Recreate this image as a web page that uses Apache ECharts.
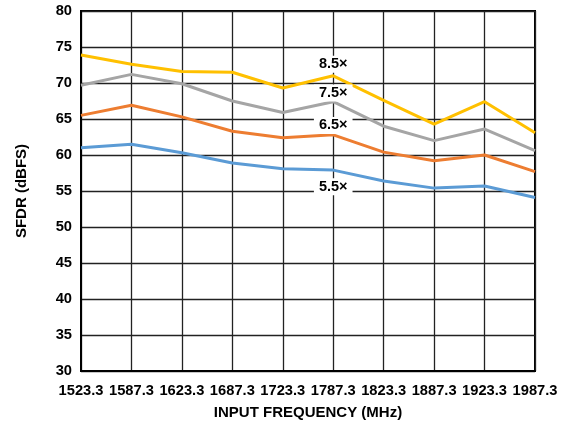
<!DOCTYPE html>
<html>
<head>
<meta charset="utf-8">
<script src="https://cdn.jsdelivr.net/npm/echarts@6/dist/echarts.min.js"></script>
<style>
  html, body { margin: 0; padding: 0; background: #fff; }
  #chart { width: 566px; height: 425px; }
</style>
</head>
<body>
<div id="chart"></div>
<script>
// Input frequencies (MHz)
const frequencies = ['1523.3', '1587.3', '1623.3', '1687.3', '1723.3', '1787.3', '1823.3', '1887.3', '1923.3', '1987.3'];

// SFDR (dBFS) per interpolation setting
const sfdr85 = [73.9, 72.6, 71.6, 71.5, 69.3, 71.0, 67.6, 64.3, 67.4, 63.1];
const sfdr75 = [69.7, 71.2, 69.9, 67.5, 65.9, 67.4, 64.0, 62.0, 63.6, 60.6];
const sfdr65 = [65.5, 66.9, 65.3, 63.3, 62.4, 62.8, 60.4, 59.2, 60.0, 57.7];
const sfdr55 = [61.0, 61.5, 60.3, 58.9, 58.1, 57.9, 56.4, 55.4, 55.7, 54.1];

// In-plot series tags: [text, category, level]
const tags85 = ['8.5×', '1787.3', 72.6];
const tags75 = ['7.5×', '1787.3', 68.6];
const tags65 = ['6.5×', '1787.3', 64.1];
const tags55 = ['5.5×', '1787.3', 55.6];

const font = 'Liberation Sans, Arial, sans-serif';

function tag(t) {
  return {
    symbol: 'circle',
    symbolSize: 0,
    silent: true,
    animation: false,
    data: [{
      coord: [t[1], t[2]],
      label: {
        show: true,
        position: 'inside',
        formatter: t[0],
        color: '#000',
        fontFamily: font,
        fontWeight: 'bold',
        fontSize: 14.5,
        backgroundColor: '#fff',
        padding: [1, 5, 1, 5]
      }
    }]
  };
}

function line(name, data, color, t) {
  return {
    name: name,
    type: 'line',
    data: data,
    symbol: 'none',
    lineStyle: { color: color, width: 3 },
    itemStyle: { color: color },
    animation: false,
    markPoint: tag(t)
  };
}

const chart = echarts.init(document.getElementById('chart'), null, { renderer: 'canvas' });
chart.setOption({
  backgroundColor: '#fff',
  grid: {
    left: 81, top: 11, right: 31, bottom: 54,
    containLabel: false,
    outerBoundsMode: 'none',
    show: true, borderColor: '#000', borderWidth: 2, backgroundColor: 'transparent'
  },
  xAxis: {
    type: 'category',
    data: frequencies,
    boundaryGap: false,
    name: 'INPUT FREQUENCY (MHz)',
    nameLocation: 'middle',
    nameGap: 34,
    nameTextStyle: { fontFamily: font, fontWeight: 'bold', fontSize: 15, color: '#000' },
    axisLine: { show: true, lineStyle: { color: '#000', width: 2 } },
    axisTick: { show: false },
    axisLabel: { fontFamily: font, fontWeight: 'bold', fontSize: 14.7, color: '#000', margin: 12, interval: 0 },
    splitLine: { show: true, lineStyle: { color: '#222', width: 1.3 } }
  },
  yAxis: {
    type: 'value',
    min: 30, max: 80, interval: 5,
    name: 'SFDR (dBFS)',
    nameLocation: 'middle',
    nameGap: 52,
    nameTextStyle: { fontFamily: font, fontWeight: 'bold', fontSize: 15, color: '#000' },
    axisLine: { show: true, lineStyle: { color: '#000', width: 2 } },
    axisTick: { show: false },
    axisLabel: { fontFamily: font, fontWeight: 'bold', fontSize: 14.7, color: '#000', margin: 9 },
    splitLine: { show: true, lineStyle: { color: '#222', width: 1.3 } }
  },
  series: [
    line('8.5×', sfdr85, '#FFC000', tags85),
    line('7.5×', sfdr75, '#A5A5A5', tags75),
    line('6.5×', sfdr65, '#ED7D31', tags65),
    line('5.5×', sfdr55, '#5B9BD5', tags55)
  ]
});
</script>
</body>
</html>
